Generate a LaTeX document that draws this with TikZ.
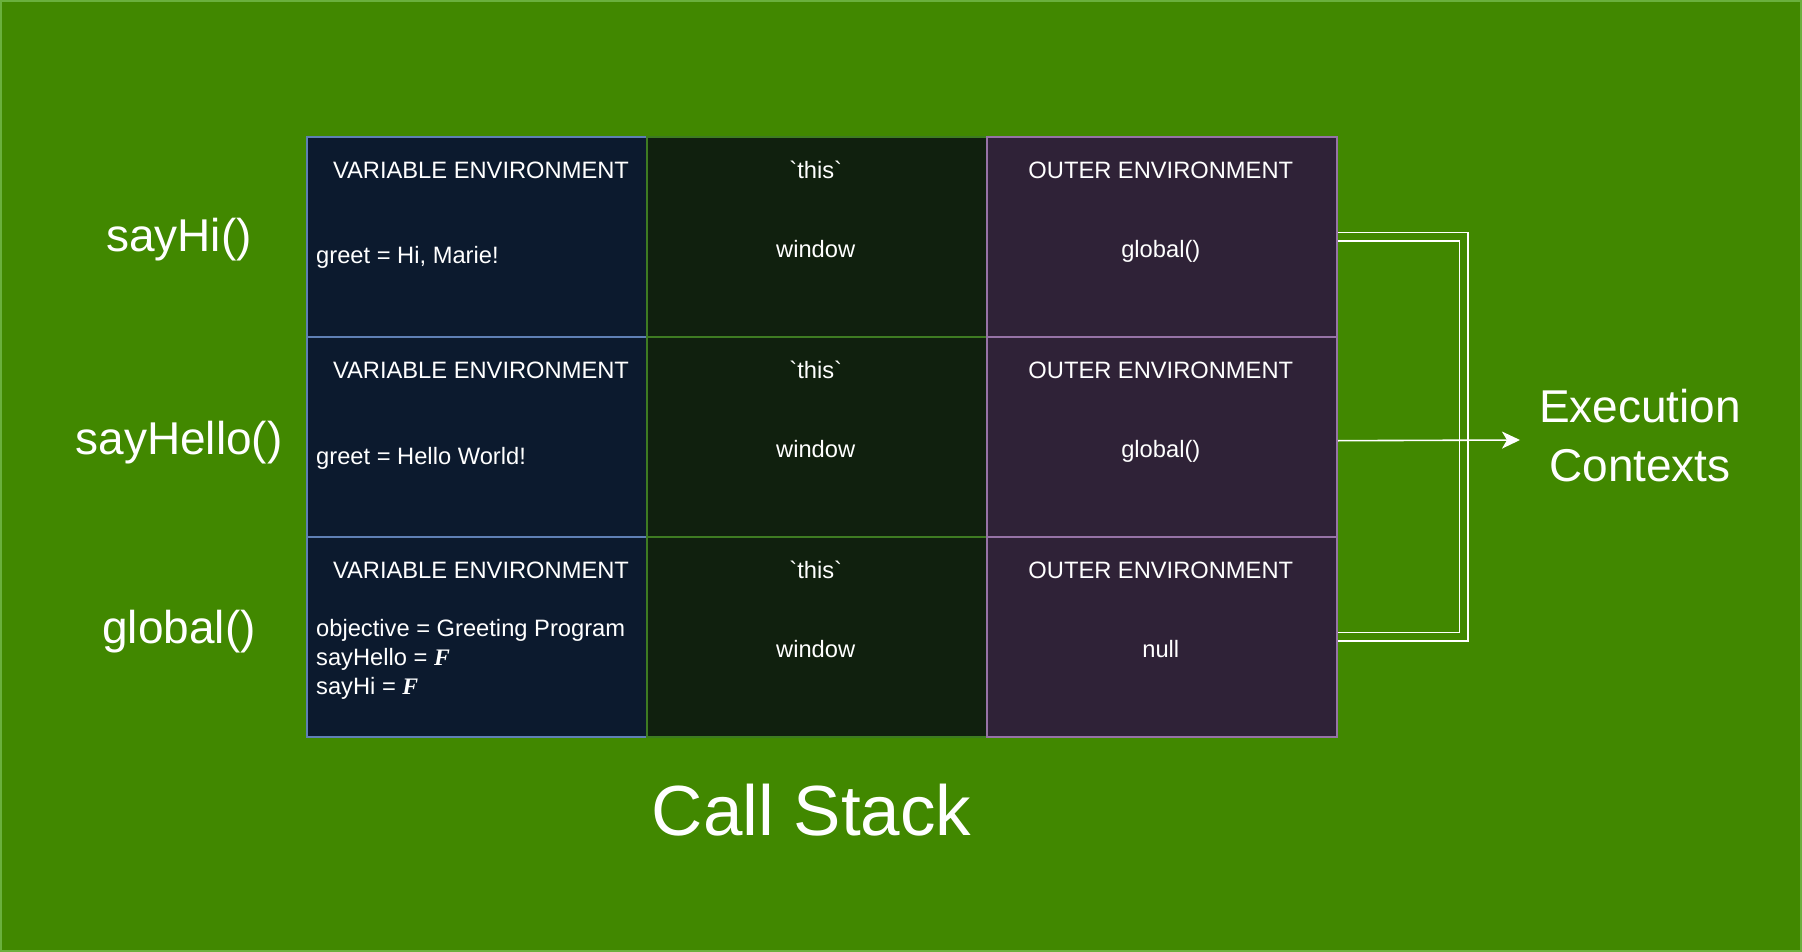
\documentclass[tikz,border=0pt]{standalone}
\usepackage{fontspec}
\setmainfont{Liberation Sans}
\newfontfamily\rawsans{Liberation Sans}[Ligatures=TeXOff]
\newfontfamily\Fserif{Liberation Serif}
\usetikzlibrary{arrows.meta}
\definecolor{bg}{HTML}{418800}
\definecolor{bgborder}{HTML}{6AB03D}
\definecolor{vfill}{HTML}{0C1A2E}
\definecolor{vdraw}{HTML}{5F80B5}
\definecolor{tfill}{HTML}{10200E}
\definecolor{tdraw}{HTML}{3E7B22}
\definecolor{ofill}{HTML}{2F2237}
\definecolor{odraw}{HTML}{9673A6}
\newcommand{\FF}{{\Fserif\bfseries\itshape F}}
\newcommand{\thistxt}{{\rawsans `this`}}
\begin{document}
\begin{tikzpicture}[x=1pt,y=-1pt,
  cell/.style={rectangle, anchor=north west, inner sep=0, minimum height=200pt, line width=2pt},
  varcell/.style={cell, fill=vfill, draw=vdraw, minimum width=340pt},
  thiscell/.style={cell, fill=tfill, draw=tdraw, minimum width=340pt},
  outcell/.style={cell, fill=ofill, draw=odraw, minimum width=350.3pt},
  txt/.style={text=white, inner sep=0, anchor=base, font=\fontsize{23.7}{28}\selectfont},
  ltxt/.style={txt, anchor=base west},
  big/.style={text=white, inner sep=0, anchor=base, font=\fontsize{46}{56}\selectfont},
  huge/.style={text=white, inner sep=0, anchor=base, font=\fontsize{71}{85}\selectfont},
  wline/.style={draw=white, line width=1.6pt}
]
\useasboundingbox (0,0) rectangle (1802,952);
\fill[bg] (0,0) rectangle (1802,952);
\draw[bgborder, line width=2pt] (1,1) rectangle (1801,951);

% column 1: variable environment
\node[varcell] (v1) at (305.7,135.7) {};
\node[varcell] (v2) at (305.7,335.7) {};
\node[varcell] (v3) at (305.7,535.7) {};
% column 2: this
\node[thiscell] (t1) at (645.7,135.7) {};
\node[thiscell] (t2) at (645.7,335.7) {};
\node[thiscell] (t3) at (645.7,535.7) {};
% column 3: outer environment
\node[outcell] (o1) at (985.7,135.7) {};
\node[outcell] (o2) at (985.7,335.7) {};
\node[outcell] (o3) at (985.7,535.7) {};

% headers
\node[txt] (vh1) at (481,178.3) {VARIABLE ENVIRONMENT};
\node[txt] (vh2) at (481,378.3) {VARIABLE ENVIRONMENT};
\node[txt] (vh3) at (481,578.3) {VARIABLE ENVIRONMENT};
\node[txt] (th1) at (815.7,178.3) {\thistxt};
\node[txt] (th2) at (815.7,378.3) {\thistxt};
\node[txt] (th3) at (815.7,578.3) {\thistxt};
\node[txt] (oh1) at (1160.8,178.3) {OUTER ENVIRONMENT};
\node[txt] (oh2) at (1160.8,378.3) {OUTER ENVIRONMENT};
\node[txt] (oh3) at (1160.8,578.3) {OUTER ENVIRONMENT};

% values
\node[ltxt] (vv1) at (316,264) {greet = Hi, Marie!};
\node[ltxt] (vv2) at (316,464) {greet = Hello World!};
\node[ltxt] (vv3a) at (316,636) {objective = Greeting Program};
\node[ltxt] (vv3b) at (316,665) {sayHello = \FF};
\node[ltxt] (vv3c) at (316,694) {sayHi = \FF};
\node[txt] (tv1) at (815.7,257.7) {window};
\node[txt] (tv2) at (815.7,457.7) {window};
\node[txt] (tv3) at (815.7,657.7) {window};
\node[txt] (ov1) at (1160.8,257.7) {global()};
\node[txt] (ov2) at (1160.8,457.7) {global()};
\node[txt] (ov3) at (1160.8,657.7) {null};

% row labels
\node[big] (l1) at (179,251.7) {sayHi()};
\node[big] (l2) at (179,454) {sayHello()};
\node[big] (l3) at (179,643.3) {global()};

% execution contexts
\node[big] (ec1) at (1640,422.7) {Execution};
\node[big] (ec2) at (1640,481.7) {Contexts};
\coordinate (ectip) at (1520,440);

% call stack
\node[huge] (cs) at (811.7,835) {Call Stack};

% double link bracket
\draw[wline, double=bg, double distance=6.7pt, line join=miter]
  (o1.east) -- ++(125.7,0) |- (o3.east);
% arrow
\draw[wline, -{Stealth[length=18pt,width=17pt,inset=5pt]}]
  ([yshift=-4pt]o2.east) -- (ectip);
\end{tikzpicture}
\end{document}
